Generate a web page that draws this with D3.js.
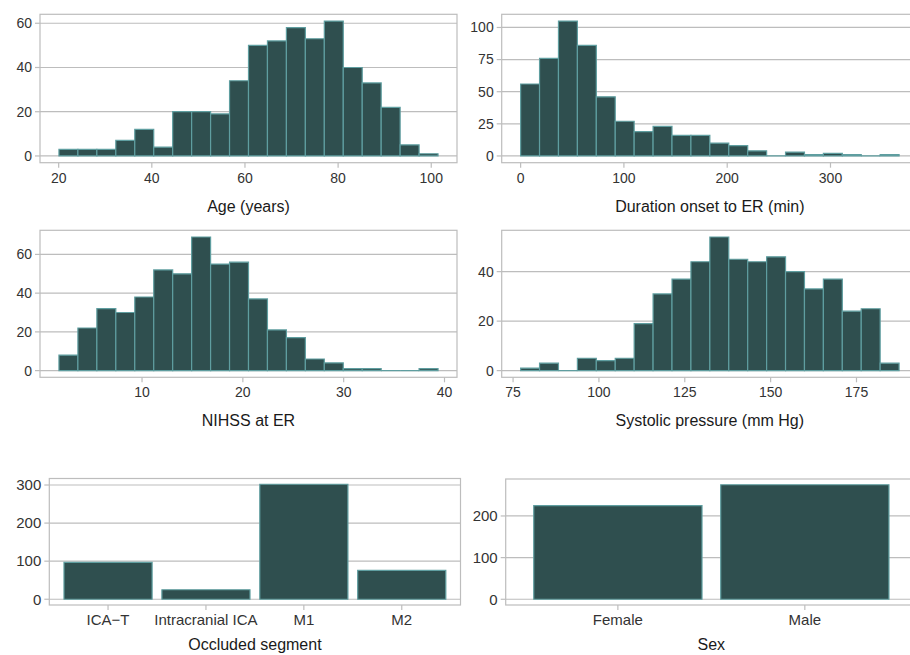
<!DOCTYPE html>
<html>
<head>
<meta charset="utf-8">
<script src="https://cdn.jsdelivr.net/npm/d3@7"></script>
<style>
  body { margin: 0; background: #fff; }
  svg { display: block; font-family: "Liberation Sans", Arial, sans-serif; }
</style>
</head>
<body>
<div id="chart"></div>
<script>
// histogram counts (20 bins each)
var ageCounts = [3, 3, 3, 7, 12, 4, 20, 20, 19, 34, 50, 52, 58, 53, 61, 40, 33, 22, 5, 1];
var ageBinStart = 20.06, ageBinWidth = 4.07;
var ageTicks = [20, 40, 60, 80, 100];
var ageCountTicks = [0, 20, 40, 60];

var durCounts = [56, 76, 105, 86, 46, 27, 19, 23, 16, 16, 10, 8, 4, 0, 3, 1, 2, 1, 0, 1];
var durBinStart = 0, durBinWidth = 18.32;
var durTicks = [0, 100, 200, 300];
var durCountTicks = [0, 25, 50, 75, 100];

var nihssCounts = [8, 22, 32, 30, 38, 52, 50, 69, 55, 56, 37, 21, 17, 6, 4, 1, 1, 0, 0, 1];
var nihssBinStart = 1.76, nihssBinWidth = 1.88;
var nihssTicks = [10, 20, 30, 40];
var nihssCountTicks = [0, 20, 40, 60];

var sysCounts = [1, 3, 0, 5, 4, 5, 19, 31, 37, 44, 54, 45, 44, 46, 40, 33, 37, 24, 25, 3];
var sysBinStart = 77.2, sysBinWidth = 5.51;
var sysTicks = [75, 100, 125, 150, 175];
var sysCountTicks = [0, 20, 40];

// bar charts
var segments = ['ICA\u2212T', 'Intracranial ICA', 'M1', 'M2'];
var segmentCounts = [97, 25, 302, 76];
var segmentCountTicks = [0, 100, 200, 300];

var sexes = ['Female', 'Male'];
var sexCounts = [225, 275];
var sexCountTicks = [0, 100, 200];

var width = 910, height = 655;
var fill = '#2f4f4f', edge = '#5f9ea0', grey = '#bdbdbd';

var svg = d3.select('#chart').append('svg')
            .attr('width', width).attr('height', height);

function frame(box, y, yTicks, title, tickSize, titleGap) {
  var g = svg.append('g');
  // grid
  g.selectAll('.grid').data(yTicks).enter().append('line')
   .attr('x1', box.x0).attr('x2', box.x1)
   .attr('y1', function(d){ return y(d); }).attr('y2', function(d){ return y(d); })
   .attr('stroke', grey).attr('stroke-width', 1.2);
  // y ticks + labels
  g.selectAll('.yt').data(yTicks).enter().append('line')
   .attr('x1', box.x0 - 5).attr('x2', box.x0)
   .attr('y1', function(d){ return y(d); }).attr('y2', function(d){ return y(d); })
   .attr('stroke', grey).attr('stroke-width', 1.2);
  g.selectAll('.yl').data(yTicks).enter().append('text')
   .attr('x', box.x0 - 8).attr('y', function(d){ return y(d); })
   .attr('dy', '0.35em').attr('text-anchor', 'end')
   .attr('font-size', tickSize + 'px').attr('fill', '#333')
   .text(function(d){ return d; });
  // title
  g.append('text')
   .attr('x', (box.x0 + box.x1) / 2).attr('y', box.y1 + titleGap)
   .attr('text-anchor', 'middle').attr('font-size', '16px').attr('fill', '#1a1a1a')
   .text(title);
  return g;
}

function border(box) {
  svg.append('rect')
     .attr('x', box.x0).attr('y', box.y0)
     .attr('width', box.x1 - box.x0).attr('height', box.y1 - box.y0)
     .attr('fill', 'none').attr('stroke', grey).attr('stroke-width', 1.2);
}

function xTickMarks(g, box, xs, labels, tickSize) {
  g.selectAll('.xt').data(xs).enter().append('line')
   .attr('x1', function(d){ return d; }).attr('x2', function(d){ return d; })
   .attr('y1', box.y1).attr('y2', box.y1 + 5)
   .attr('stroke', grey).attr('stroke-width', 1.2);
  g.selectAll('.xl').data(xs).enter().append('text')
   .attr('x', function(d){ return d; }).attr('y', box.y1 + 20)
   .attr('text-anchor', 'middle').attr('font-size', tickSize + 'px').attr('fill', '#333')
   .text(function(d, i){ return labels[i]; });
}

function barPath(x0, x1, y0, y1) {
  return 'M' + x0 + ',' + y0 + 'H' + x1 + 'V' + y1 + 'H' + x0 + 'Z';
}

function histogram(box, counts, start, binW, xTicks, yTicks, title) {
  var end = start + binW * counts.length;
  var pad = (end - start) * 0.05;
  var x = d3.scaleLinear().domain([start - pad, end + pad]).range([box.x0, box.x1]);
  var maxC = d3.max(counts);
  var y = d3.scaleLinear().domain([-maxC * 0.05, maxC * 1.05]).range([box.y1, box.y0]);
  var g = frame(box, y, yTicks, title, 14, 49);
  g.selectAll('.bar').data(counts).enter().append('path')
   .attr('d', function(d, i){
     return barPath(x(start + i * binW), x(start + (i + 1) * binW), y(0), y(d));
   })
   .attr('fill', fill).attr('stroke', edge).attr('stroke-width', 1.2);
  border(box);
  xTickMarks(g, box, xTicks.map(function(t){ return x(t); }), xTicks, 14);
}

function barChart(box, cats, values, yTicks, title) {
  var x = d3.scaleBand().domain(cats).range([box.x0, box.x1])
            .paddingInner(0.1).paddingOuter(0.15);
  var maxC = d3.max(values);
  var y = d3.scaleLinear().domain([-maxC * 0.05, maxC * 1.05]).range([box.y1, box.y0]);
  var g = frame(box, y, yTicks, title, 15, 45);
  g.selectAll('.bar').data(values).enter().append('path')
   .attr('d', function(d, i){
     return barPath(x(cats[i]), x(cats[i]) + x.bandwidth(), y(0), y(d));
   })
   .attr('fill', fill).attr('stroke', edge).attr('stroke-width', 1.2);
  border(box);
  xTickMarks(g, box, cats.map(function(c){ return x(c) + x.bandwidth() / 2; }), cats, 15);
}

histogram({x0: 40, x1: 457, y0: 14.3, y1: 162.7}, ageCounts, ageBinStart, ageBinWidth,
          ageTicks, ageCountTicks, 'Age (years)');
histogram({x0: 501.7, x1: 918, y0: 14.3, y1: 162.7}, durCounts, durBinStart, durBinWidth,
          durTicks, durCountTicks, 'Duration onset to ER (min)');
histogram({x0: 40, x1: 457, y0: 230.3, y1: 377.3}, nihssCounts, nihssBinStart, nihssBinWidth,
          nihssTicks, nihssCountTicks, 'NIHSS at ER');
histogram({x0: 501.7, x1: 918, y0: 230.3, y1: 377.3}, sysCounts, sysBinStart, sysBinWidth,
          sysTicks, sysCountTicks, 'Systolic pressure (mm Hg)');
barChart({x0: 49.3, x1: 460.5, y0: 478.5, y1: 605}, segments, segmentCounts,
         segmentCountTicks, 'Occluded segment');
barChart({x0: 505.7, x1: 917, y0: 479, y1: 605}, sexes, sexCounts,
         sexCountTicks, 'Sex');
</script>
</body>
</html>
